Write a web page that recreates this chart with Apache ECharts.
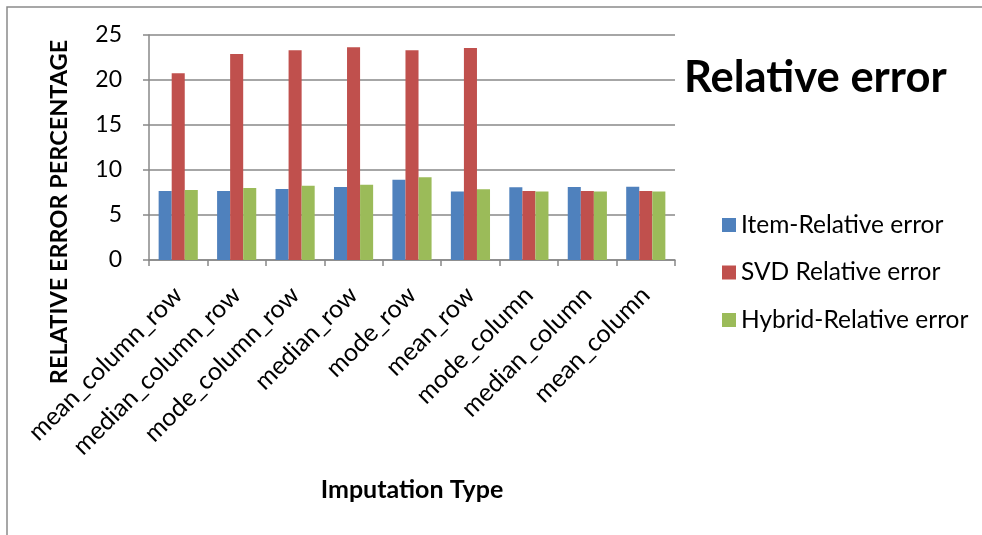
<!DOCTYPE html>
<html>
<head>
<meta charset="utf-8">
<script src="https://cdn.jsdelivr.net/npm/echarts@6/dist/echarts.min.js"></script>
<style>
  html, body { margin: 0; padding: 0; background: #fff; }
  #chart { width: 982px; height: 535px; }
</style>
</head>
<body>
<div id="chart"></div>
<script>
// Imputation strategies on the x axis
const categories = [
  'mean_column_row', 'median_column_row', 'mode_column_row', 'median_row',
  'mode_row', 'mean_row', 'mode_column', 'median_column', 'mean_column'
];

// Relative error (%) per method
const itemRelativeError   = [7.67, 7.67, 7.9, 8.1, 8.93, 7.6, 8.07, 8.1, 8.15];
const svdRelativeError    = [20.75, 22.9, 23.3, 23.65, 23.3, 23.55, 7.67, 7.67, 7.67];
const hybridRelativeError = [7.78, 8.0, 8.26, 8.37, 9.2, 7.85, 7.6, 7.6, 7.6];

const seriesNames = ['Item-Relative error', 'SVD Relative error', 'Hybrid-Relative error'];
const yTicks = { min: 0, max: 25, interval: 5 };

const FONT = 'Lato, "Noto Sans", sans-serif';
const colors = ['#4F81BD', '#C0504D', '#9BBB59'];

const chart = echarts.init(document.getElementById('chart'), null, { renderer: 'canvas' });

const mkSeries = (name, data, color) => ({
  name,
  type: 'bar',
  data,
  barGap: '0%',
  barCategoryGap: '33%',
  itemStyle: { color },
  emphasis: { disabled: true }
});

chart.setOption({
  animation: false,
  backgroundColor: '#ffffff',
  color: colors,
  title: {
    text: 'Relative error',
    left: 679,
    top: 51,
    textStyle: { fontFamily: FONT, fontWeight: 'bold', fontSize: 43.5, color: '#000' }
  },
  legend: {
    orient: 'vertical',
    left: 717,
    top: 207,
    itemWidth: 14,
    itemHeight: 14,
    itemGap: 21.5,
    icon: 'rect',
    data: seriesNames,
    textStyle: { fontFamily: FONT, fontSize: 24.5, color: '#000', lineHeight: 26 }
  },
  grid: { left: 149, right: 307, top: 35, bottom: 275, containLabel: false },
  xAxis: {
    type: 'category',
    data: categories,
    axisLine: { lineStyle: { color: '#888', width: 1.5 } },
    axisTick: { show: true, length: 6, lineStyle: { color: '#888', width: 1.5 } },
    axisLabel: {
      rotate: 45,
      interval: 0,
      margin: 31,
      fontFamily: FONT,
      fontSize: 25,
      color: '#000'
    }
  },
  yAxis: {
    type: 'value',
    min: yTicks.min,
    max: yTicks.max,
    interval: yTicks.interval,
    axisLine: { show: true, lineStyle: { color: '#888', width: 1.5 } },
    axisTick: { show: true, length: 6, lineStyle: { color: '#888', width: 1.5 } },
    splitLine: { lineStyle: { color: '#888', width: 1.5 } },
    axisLabel: { margin: 27, fontFamily: FONT, fontSize: 23, color: '#000' }
  },
  graphic: [
    {
      type: 'rect',
      silent: true,
      shape: { x: 7, y: 7, width: 1100, height: 700 },
      style: { fill: 'none', stroke: '#8a8a8a', lineWidth: 1.5 }
    },
    {
      type: 'text',
      silent: true,
      x: 59,
      y: 212,
      rotation: Math.PI / 2,
      style: {
        text: 'RELATIVE ERROR PERCENTAGE',
        fontFamily: FONT,
        fontWeight: 'bold',
        fontSize: 23.5,
        fill: '#000',
        align: 'center',
        verticalAlign: 'middle'
      }
    },
    {
      type: 'text',
      silent: true,
      x: 412,
      y: 490,
      style: {
        text: 'Imputation Type',
        fontFamily: FONT,
        fontWeight: 'bold',
        fontSize: 25,
        fill: '#000',
        align: 'center',
        verticalAlign: 'middle'
      }
    }
  ],
  series: [
    mkSeries(seriesNames[0], itemRelativeError, colors[0]),
    mkSeries(seriesNames[1], svdRelativeError, colors[1]),
    mkSeries(seriesNames[2], hybridRelativeError, colors[2])
  ]
});
</script>
</body>
</html>
